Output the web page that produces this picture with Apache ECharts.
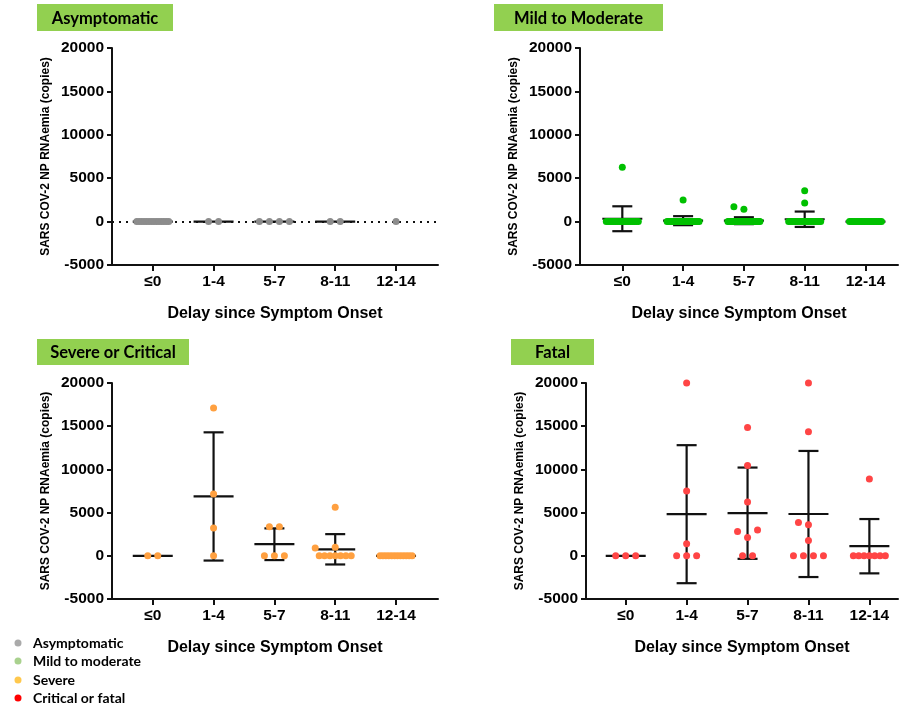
<!DOCTYPE html>
<html><head><meta charset="utf-8">
<script src="https://cdn.jsdelivr.net/npm/echarts@6/dist/echarts.min.js"></script>
<style>html,body{margin:0;padding:0;background:#fff}#c{width:899px;height:708px}</style>
</head><body><div id="c"></div>
<script>
// ---------------- DATA ----------------
const categories = ['≤0', '1-4', '5-7', '8-11', '12-14'];
const yTickValues = [-5000, 0, 5000, 10000, 15000, 20000];
const panelTitles = ['Asymptomatic', 'Mild to Moderate', 'Severe or Critical', 'Fatal'];
const legendLabels = ['Asymptomatic', 'Mild to moderate', 'Severe', 'Critical or fatal'];
const yAxisTitle = 'SARS COV-2 NP RNAemia (copies)';
const xAxisTitle = 'Delay since Symptom Onset';

// RNAemia values (copies) per delay category
const asymptomatic = [
  [0, 0, 0, 0, 0, 0, 0, 0, 0, 0, 0, 0, 0, 0],
  [0, 0],
  [0, 0, 0, 0],
  [0, 0],
  [0]
];
const mildModerate = [
  [6250, 0, 0, 0, 0, 0, 0, 0, 0, 0, 0, 0, 0, 0, 0, 0, 0, 0, 0],
  [2490, 0, 0, 0, 0, 0, 0, 0, 0, 0, 0, 0, 0, 0, 0, 0, 0, 0, 0, 0, 0, 0, 0],
  [1720, 1410, 0, 0, 0, 0, 0, 0, 0, 0, 0, 0, 0, 0, 0, 0, 0, 0, 0, 0, 0, 0, 0, 0, 0, 0, 0, 0, 0, 0],
  [3560, 2140, 0, 0, 0, 0, 0, 0, 0, 0, 0, 0, 0, 0, 0, 0, 0, 0, 0, 0, 0],
  [0, 0, 0, 0, 0, 0, 0, 0, 0, 0, 0, 0, 0, 0, 0, 0, 0, 0, 0, 0]
];
const severeCritical = [
  [0, 0],
  [17100, 7150, 3230, 0],
  [3350, 3350, 0, 0, 0],
  [5620, 1000, 900, 0, 0, 0, 0, 0, 0, 0],
  [0, 0, 0, 0, 0, 0, 0, 0, 0, 0, 0, 0]
];
const fatal = [
  [0, 0, 0],
  [20000, 7500, 1400, 0, 0, 0],
  [14850, 10450, 6230, 3000, 2800, 2120, 0, 0],
  [20000, 14350, 3850, 3580, 1770, 0, 0, 0, 0],
  [8890, 0, 0, 0, 0, 0, 0, 0]
];

const panelData = [asymptomatic, mildModerate, severeCritical, fatal];
const pointColors = ['#8c8c8c', '#00c000', '#ffa040', '#ff4545'];
const legendColors = ['#aaaaaa', '#a9d18e', '#ffc84d', '#ff0000'];

// ---------------- LAYOUT ----------------
const panels = [
  { grid: { left: 112, top: 48, width: 326, height: 217 }, xmin: -0.67, xmax: 4.69, box: [37, 4, 136, 27], baseline: true },
  { grid: { left: 580, top: 48, width: 318, height: 217 }, xmin: -0.696, xmax: 4.535, box: [494, 4, 169, 27] },
  { grid: { left: 112, top: 383, width: 326, height: 216 }, xmin: -0.67, xmax: 4.69, box: [37, 339, 152, 26] },
  { grid: { left: 586, top: 383, width: 312, height: 216 }, xmin: -0.652, xmax: 4.47, box: [511, 339, 83, 26] }
];
const YMIN = yTickValues[0], YMAX = yTickValues[yTickValues.length - 1];

function stats(v) {
  const n = v.length;
  const m = v.reduce((a, b) => a + b, 0) / n;
  const sd = n > 1 ? Math.sqrt(v.reduce((a, b) => a + (b - m) * (b - m), 0) / (n - 1)) : 0;
  return [m, sd, n];
}

// scatter-dot layout: identical values spread in a row, others avoid collisions
function swarm(vals, pxPerY) {
  const S = 10, MAXSPAN = 32, TH = 8.5;
  const sorted = vals.slice().sort((a, b) => a - b);
  const groups = [];
  sorted.forEach(v => {
    const g = groups[groups.length - 1];
    if (g && g.v === v) g.n++; else groups.push({ v, n: 1 });
  });
  const placed = [], out = [];
  groups.forEach(g => {
    const s = g.n > 1 ? Math.min(S, MAXSPAN / (g.n - 1)) : S;
    const base = [];
    for (let i = 0; i < g.n; i++) base.push((i - (g.n - 1) / 2) * s);
    const y = g.v * pxPerY;
    for (let k = 0; k < 60; k++) {
      const shift = k === 0 ? 0 : (k % 2 ? -1 : 1) * Math.ceil(k / 2) * S;
      const xs = base.map(b => b + shift);
      const ok = xs.every(x => placed.every(p => Math.hypot(p.x - x, p.y - y) >= TH));
      if (ok) { xs.forEach(x => { placed.push({ x, y }); out.push([x, g.v]); }); break; }
    }
  });
  return out;
}

const font = "Liberation Sans";
const titleFont = "Lato";

const grids = [], xAxes = [], yAxes = [], series = [], graphics = [];

panels.forEach((p, pi) => {
  grids.push(Object.assign({}, p.grid));
  xAxes.push({
    type: 'value', gridIndex: pi, min: p.xmin, max: p.xmax,
    splitLine: { show: false },
    axisLine: { show: true, onZero: false, lineStyle: { color: '#111', width: 2 } },
    axisTick: { show: true, length: 6, lineStyle: { color: '#111', width: 2 }, customValues: [0, 1, 2, 3, 4] },
    axisLabel: { show: true, customValues: [0, 1, 2, 3, 4], formatter: v => categories[Math.round(v)], color: '#000', fontFamily: font, fontWeight: 'bold', fontSize: 15.5, margin: 9 },
    name: xAxisTitle, nameLocation: 'middle', nameGap: 41,
    nameTextStyle: { color: '#000', fontFamily: font, fontWeight: 'bold', fontSize: 16 }
  });
  yAxes.push({
    type: 'value', gridIndex: pi, min: YMIN, max: YMAX, interval: 5000,
    splitLine: { show: false },
    axisLine: { show: true, onZero: false, lineStyle: { color: '#111', width: 2 } },
    axisTick: { show: true, length: 5, lineStyle: { color: '#111', width: 2 } },
    axisLabel: { color: '#000', fontFamily: font, fontWeight: 'bold', fontSize: 15.5, margin: 8, formatter: v => String(v) },
    name: yAxisTitle, nameLocation: 'middle', nameGap: 60,
    nameTextStyle: { color: '#000', fontFamily: font, fontWeight: 'bold', fontSize: 12 }
  });

  const data = panelData[pi];
  const pxPerY = p.grid.height / (YMAX - YMIN);
  const pxPerCat = p.grid.width / (p.xmax - p.xmin);
  const pts = [];
  const st = [];
  data.forEach((vals, ci) => {
    swarm(vals, pxPerY).forEach(([dx, v]) => pts.push([ci + dx / pxPerCat, v]));
    const [m, sd, n] = stats(vals);
    st.push([ci, m, sd, n]);
  });

  series.push({
    type: 'custom', xAxisIndex: pi, yAxisIndex: pi, z: 3,
    data: st,
    renderItem: (params, api) => {
      const n = api.value(3);
      if (n < 2) return null;
      const i = api.value(0), m = api.value(1), sd = api.value(2);
      const c = api.coord([i, m]);
      const style = { stroke: '#111', lineWidth: 2.2 };
      const ch = [{ type: 'line', shape: { x1: c[0] - 20, y1: c[1], x2: c[0] + 20, y2: c[1] }, style }];
      if (sd > 0) {
        const t = api.coord([i, m + sd]), b = api.coord([i, m - sd]);
        ch.push({ type: 'line', shape: { x1: c[0], y1: t[1], x2: c[0], y2: b[1] }, style });
        ch.push({ type: 'line', shape: { x1: c[0] - 10, y1: t[1], x2: c[0] + 10, y2: t[1] }, style });
        ch.push({ type: 'line', shape: { x1: c[0] - 10, y1: b[1], x2: c[0] + 10, y2: b[1] }, style });
      }
      return { type: 'group', children: ch };
    }
  });

  const sc = {
    type: 'scatter', xAxisIndex: pi, yAxisIndex: pi, z: 4,
    symbolSize: 7, itemStyle: { color: pointColors[pi], opacity: 1 },
    data: pts, silent: true
  };
  if (p.baseline) {
    sc.markLine = {
      z: 1, silent: true, symbol: 'none', label: { show: false },
      lineStyle: { color: '#111', type: [2, 5], width: 2 },
      data: [{ yAxis: 0 }]
    };
  }
  series.push(sc);

  const [bx, by, bw, bh] = p.box;
  graphics.push({ type: 'rect', shape: { x: bx, y: by, width: bw, height: bh }, style: { fill: '#92d050' } });
  graphics.push({ type: 'text', x: bx + bw / 2, y: by + bh / 2 + 1, style: { text: panelTitles[pi], fill: '#000', font: `bold 16.5px ${titleFont}`, align: 'center', verticalAlign: 'middle' } });
});

const legendRows = [643, 661, 680, 698];
legendLabels.forEach((t, i) => {
  graphics.push({ type: 'circle', shape: { cx: 18, cy: legendRows[i], r: 3.5 }, style: { fill: legendColors[i] } });
  graphics.push({ type: 'text', x: 33, y: legendRows[i], style: { text: t, fill: '#000', font: `bold 14px ${titleFont}`, verticalAlign: 'middle' } });
});

const chart = echarts.init(document.getElementById('c'), null, { renderer: 'canvas' });
chart.setOption({
  animation: false,
  backgroundColor: '#fff',
  grid: grids, xAxis: xAxes, yAxis: yAxes, series,
  graphic: graphics
});
</script></body></html>
